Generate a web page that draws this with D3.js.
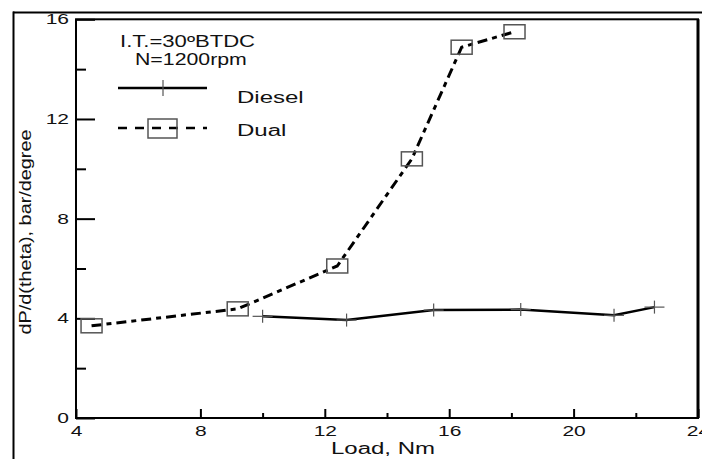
<!DOCTYPE html>
<html>
<head>
<meta charset="utf-8">
<script src="https://cdn.jsdelivr.net/npm/d3@7"></script>
<style>
  body { margin: 0; background: #fff; }
  text { font-family: "Liberation Sans", Arial, sans-serif; fill: #111; }
</style>
</head>
<body>
<div id="chart-area"></div>
<script>
// data
const dieselLoad = [10.0, 12.7, 15.5, 18.3, 21.3, 22.6];
const dieselRate = [4.08, 3.93, 4.33, 4.35, 4.12, 4.45];
const dualLoad = [4.5, 9.2, 12.4, 14.8, 16.4, 18.1];
const dualRate = [3.7, 4.38, 6.1, 10.4, 14.88, 15.5];
const xTicks = [4, 8, 12, 16, 20, 24];
const xMinor = [10, 14, 18, 22];
const yTicks = [0, 4, 8, 12, 16];
const yMinor = [2, 6, 10, 14];

const W = 702, H = 459;
const plot = { left: 76, right: 698, top: 19.3, bottom: 418 };
const SX = 1.5; // the source picture is stretched sideways

const svg = d3.select("#chart-area")
  .append("svg")
    .attr("width", W)
    .attr("height", H);

const x = d3.scaleLinear().domain([4, 24]).range([plot.left, plot.right]);
const y = d3.scaleLinear().domain([0, 16]).range([plot.bottom, plot.top]);

function stretch(sel, k) {
  sel.each(function () {
    const w = this.getComputedTextLength();
    d3.select(this).attr("textLength", w * k).attr("lengthAdjust", "spacingAndGlyphs");
  });
}

// outer frame
svg.append("line")
  .attr("x1", 13).attr("x2", W).attr("y1", 12.5).attr("y2", 12.5)
  .attr("stroke", "#000").attr("stroke-width", 2);
svg.append("line")
  .attr("x1", 13.5).attr("x2", 13.5).attr("y1", 11.5).attr("y2", H)
  .attr("stroke", "#000").attr("stroke-width", 2);

// axes
svg.append("g")
  .attr("transform", `translate(0, ${plot.bottom})`)
  .call(d3.axisBottom(x).tickValues(xTicks).tickSizeInner(-9).tickSizeOuter(0).tickPadding(8));
svg.append("g")
  .attr("transform", `translate(0, ${plot.bottom})`)
  .call(d3.axisBottom(x).tickValues(xMinor).tickSizeInner(-5).tickSizeOuter(0).tickFormat(""));
svg.append("g")
  .attr("transform", `translate(${plot.left}, 0)`)
  .call(d3.axisLeft(y).tickValues(yTicks).tickSizeInner(-19).tickSizeOuter(0).tickPadding(7));
svg.append("g")
  .attr("transform", `translate(${plot.left}, 0)`)
  .call(d3.axisLeft(y).tickValues(yMinor).tickSizeInner(-10).tickSizeOuter(0).tickFormat(""));

svg.selectAll(".domain").remove();
svg.selectAll(".tick line").attr("stroke", "#000").attr("stroke-width", 2);
svg.selectAll(".tick text")
  .attr("font-family", "Liberation Sans, Arial, sans-serif")
  .attr("font-size", 14)
  .attr("fill", "#111");
stretch(svg.selectAll(".tick text"), SX);

// plot frame
svg.append("rect")
  .attr("x", plot.left).attr("y", plot.top)
  .attr("width", plot.right - plot.left).attr("height", plot.bottom - plot.top)
  .attr("fill", "none").attr("stroke", "#000").attr("stroke-width", 2);
svg.append("line")
  .attr("x1", plot.right).attr("x2", plot.right).attr("y1", plot.top).attr("y2", plot.bottom)
  .attr("stroke", "#000").attr("stroke-width", 3);

// axis titles
const xLabel = svg.append("text")
  .attr("x", (plot.left + plot.right) / 2 - 4)
  .attr("y", 454)
  .attr("font-size", 16)
  .attr("text-anchor", "middle")
  .text("Load, Nm");
stretch(xLabel, SX);

svg.append("text")
  .attr("transform", "translate(31, 232) rotate(-90)")
  .attr("font-size", 17)
  .attr("text-anchor", "middle")
  .attr("textLength", 205)
  .attr("lengthAdjust", "spacingAndGlyphs")
  .text("dP/d(theta), bar/degree");

// series
const diesel = dieselLoad.map((d, i) => ({ x: d, y: dieselRate[i] }));
const dual = dualLoad.map((d, i) => ({ x: d, y: dualRate[i] }));
const line = d3.line().x(d => x(d.x)).y(d => y(d.y));

svg.append("path")
  .datum(dual)
  .attr("d", line)
  .attr("fill", "none")
  .attr("stroke", "#000")
  .attr("stroke-width", 3)
  .attr("stroke-dasharray", "10,5,5,5");

svg.append("path")
  .datum(diesel)
  .attr("d", line)
  .attr("fill", "none")
  .attr("stroke", "#000")
  .attr("stroke-width", 2.5);

function cross(g, cx, cy, hw, hh) {
  g.append("line").attr("x1", cx - hw).attr("x2", cx + hw).attr("y1", cy).attr("y2", cy)
    .attr("stroke", "#555").attr("stroke-width", 1.2);
  g.append("line").attr("x1", cx).attr("x2", cx).attr("y1", cy - hh).attr("y2", cy + hh)
    .attr("stroke", "#555").attr("stroke-width", 1.2);
}

const crosses = svg.append("g");
diesel.forEach(d => cross(crosses, x(d.x), y(d.y), 10, 6.5));

svg.append("g")
  .selectAll("rect")
  .data(dual)
  .enter()
  .append("rect")
    .attr("x", d => x(d.x) - 10.5)
    .attr("y", d => y(d.y) - 7)
    .attr("width", 21)
    .attr("height", 14)
    .attr("fill", "none")
    .attr("stroke", "#555")
    .attr("stroke-width", 1.5);

// legend
const legend = svg.append("g");
const t1 = legend.append("text").attr("x", 120).attr("y", 46.5).attr("font-size", 16).text("I.T.=30ºBTDC");
const t2 = legend.append("text").attr("x", 135).attr("y", 65).attr("font-size", 16).text("N=1200rpm");

legend.append("line")
  .attr("x1", 118).attr("x2", 207).attr("y1", 88).attr("y2", 88)
  .attr("stroke", "#000").attr("stroke-width", 2.5);
cross(legend, 163, 88, 0, 8);
const t3 = legend.append("text").attr("x", 237).attr("y", 103).attr("font-size", 16).text("Diesel");

legend.append("line")
  .attr("x1", 118).attr("x2", 207).attr("y1", 128).attr("y2", 128)
  .attr("stroke", "#000").attr("stroke-width", 2.5)
  .attr("stroke-dasharray", "9,8");
legend.append("rect")
  .attr("x", 148).attr("y", 119).attr("width", 29).attr("height", 19)
  .attr("fill", "none").attr("stroke", "#555").attr("stroke-width", 1.5);
const t4 = legend.append("text").attr("x", 237).attr("y", 136).attr("font-size", 16).text("Dual");

stretch(t1, 1.38);
stretch(t2, 1.33);
stretch(t3, SX);
stretch(t4, SX);
</script>
</body>
</html>
